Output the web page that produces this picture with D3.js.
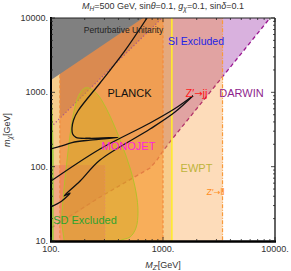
<!DOCTYPE html>
<html>
<head>
<meta charset="utf-8">
<script src="https://cdn.jsdelivr.net/npm/d3@7"></script>
<style>
  body { margin: 0; background: #fff; }
  svg text { font-family: "Liberation Sans", Arial, sans-serif; }
</style>
</head>
<body>
<svg id="chart" width="291" height="271"></svg>
<script>
// axis tick labels
const xTicks = [100, 1000, 10000];
const yTicks = [10, 100, 1000, 10000];

// vertical exclusion edges in M_Z' [GeV]
const dijetRange = [120, 1000];
const ewptEdge = 1200;
const dileptonEdge = 3400;
const redEdge = [104, 303];
const redTop = 105;

// curves as [M_Z', m_chi] in GeV
const unitarity = [[100, 1469], [663, 10000]];
const siLimit = [[100, 342], [980, 10000]];
const darwin = [[90, 13], [100, 15], [274, 39], [766, 96], [884, 123], [1000, 162], [1228, 243], [9024, 10000], [9600, 11500]];
const relic = [[100, 173], [125, 190], [154, 211], [223, 228], [396, 247], [223, 241], [167, 248], [156, 275], [154, 331], [159, 425], [174, 561], [274, 1335], [449, 3490], [720, 10000]];
const funnelUp = [[100, 64], [274, 173], [766, 387], [1280, 606], [1853, 900]];
const funnelLow = [[100, 28.7], [125, 34.5], [148, 44.2], [131, 40.3], [182, 64], [274, 123], [766, 321], [1280, 544], [1853, 900]];
const monojet = [[131, 8], [131, 10], [125, 18], [128, 35.6], [136, 90], [148, 267], [160, 544], [178, 921], [201, 1144], [228, 1109], [263, 921], [310, 616], [365, 364], [431, 196], [508, 96], [574, 45.6], [598, 24.5], [574, 15], [508, 11.3], [413, 10], [400, 8]];
const sdExcluded = [[90, 10], [90, 800], [101.5, 700], [103, 400], [104.5, 150], [104.5, 10]];

const svg = d3.select('#chart');
const x = d3.scaleLog().domain([100, 10000]).range([51, 275]);
const y = d3.scaleLog().domain([10, 10000]).range([241, 18]);

svg.append('defs').append('clipPath').attr('id', 'clip')
  .append('rect').attr('x', 51).attr('y', 18).attr('width', 224).attr('height', 223);

const plot = svg.append('g').attr('clip-path', 'url(#clip)');
const line = d3.line().x(d => x(d[0])).y(d => y(d[1]));
const smooth = d3.line().x(d => x(d[0])).y(d => y(d[1])).curve(d3.curveCatmullRom.alpha(0.5));

function band(lo, hi, mLo, mHi, fill) {
  plot.append('rect')
    .attr('x', x(lo)).attr('y', y(mHi))
    .attr('width', x(hi) - x(lo)).attr('height', y(mLo) - y(mHi))
    .attr('fill', fill);
}
function vline(M, mLo, mHi, stroke, dash, w) {
  plot.append('line')
    .attr('x1', x(M)).attr('x2', x(M)).attr('y1', y(mLo)).attr('y2', y(mHi))
    .attr('stroke', stroke).attr('stroke-width', w).attr('stroke-dasharray', dash);
}

// DARWIN region (drawn first, tinted by the rest); only right of the dijet edge
const darwinFill = [[dijetRange[0], 16.5]].concat(darwin.filter(d => d[0] > dijetRange[0]), [[dijetRange[0], 20000]]);
plot.append('path').attr('d', line(darwinFill) + 'Z').attr('fill', '#d9b1de');
plot.append('path').attr('d', line(darwin)).attr('fill', 'none')
  .attr('stroke', '#9a1690').attr('stroke-width', 1.3).attr('stroke-dasharray', '4,3');

// Z' -> ll
band(90, dileptonEdge, 8, 12000, 'rgba(248,125,0,0.27)');
// EWPT
band(90, ewptEdge, 8, 12000, 'rgba(235,180,60,0.36)');
// dijet
band(dijetRange[0], dijetRange[1], 8, 12000, 'rgba(250,150,50,0.55)');

// SI limit
plot.append('path')
  .attr('d', line([[dijetRange[0], 342 * Math.pow(1.2, 1.48)], [980, 10000], [dijetRange[0], 10000]]) + 'Z')
  .attr('fill', 'rgba(150,80,70,0.25)');
plot.append('path').attr('d', line(siLimit)).attr('fill', 'none')
  .attr('stroke', '#a8568c').attr('stroke-width', 1.2).attr('stroke-dasharray', '1.2,2.2');

// reddish strip
band(redEdge[0], redEdge[1], 8, redTop, 'rgba(235,90,110,0.3)');
vline(redEdge[1], 8, redTop, '#f27a98', '1.3,2', 1);

// monojet
plot.append('path').attr('d', smooth(monojet) + 'Z')
  .attr('fill', 'rgba(205,170,25,0.4)').attr('stroke', '#b5c02a').attr('stroke-width', 1);

// SD excluded
plot.append('path').attr('d', line(sdExcluded) + 'Z')
  .attr('fill', 'rgba(120,200,40,0.6)').attr('stroke', '#8fd12a').attr('stroke-width', 0.8);

// vertical edges
vline(dijetRange[0], 8, 12000, '#f38a3a', '3,2', 1.1);
vline(dijetRange[1], 8, 12000, '#f38a3a', '3,2', 1.2);
vline(ewptEdge, 8, 12000, '#ffec2e', null, 1.6);
vline(dileptonEdge, 8, 12000, '#f89a3a', '4,1.5,1,1.5', 1.2);

// perturbative unitarity
plot.append('path').attr('d', line(unitarity.concat([[90, 12000], [90, 1400]])) + 'Z').attr('fill', '#808080');

// relic density contours
[relic, funnelUp, funnelLow].forEach(c => {
  plot.append('path').attr('d', smooth(c)).attr('fill', 'none')
    .attr('stroke', '#111').attr('stroke-width', 1.3);
});

// annotations [text, M, m, color, size]
const notes = [
  ['Perturbative Unitarity', 444, 6280, '#222', 8.5],
  ['SI Excluded', 1970, 4335, '#2323e6', 10.5],
  ['PLANCK', 502, 865, '#111', 11],
  ['Z\u2032|jj', 1990, 865, '#ff1a1a', 11],
  ['DARWIN', 5020, 865, '#8e1f8e', 11],
  ['MONOJET', 492, 167, '#ff22dd', 11],
  ['EWPT', 1990, 84.7, '#bdb43a', 11],
  ['Z\u2032|ll', 2944, 41.6, '#ff8c1a', 9],
  ['SD Excluded', 201, 16.9, '#2ea32e', 11]
];
notes.forEach(([t, M, m, c, s]) => {
  const el = svg.append('text').attr('x', x(M)).attr('y', y(m))
    .attr('text-anchor', 'middle').attr('font-size', s).attr('fill', c);
  const parts = t.split('|');
  el.append('tspan').text(parts[0]);
  if (parts.length > 1) {
    el.append('tspan').style('font-family', '"DejaVu Sans", sans-serif').attr('font-size', s * 0.9).text('\u2192');
    el.append('tspan').text(parts[1]);
  }
});

// frame
const axes = svg.append('g');
axes.append('line').attr('x1', 51).attr('x2', 275).attr('y1', 18).attr('y2', 18).attr('stroke', '#222').attr('stroke-width', 1);
axes.append('line').attr('x1', 275).attr('x2', 275).attr('y1', 18).attr('y2', 241).attr('stroke', '#222').attr('stroke-width', 1.4);
axes.append('line').attr('x1', 51).attr('x2', 51).attr('y1', 17).attr('y2', 242).attr('stroke', '#000').attr('stroke-width', 2);
axes.append('line').attr('x1', 50).attr('x2', 276).attr('y1', 241.5).attr('y2', 241.5).attr('stroke', '#000').attr('stroke-width', 2.5);

const isMajor = v => Math.abs(Math.log10(v) - Math.round(Math.log10(v))) < 1e-6;
x.ticks().forEach(v => {
  const len = isMajor(v) ? 4 : 2;
  axes.append('line').attr('x1', x(v)).attr('x2', x(v)).attr('y1', 241).attr('y2', 241 - len).attr('stroke', '#222').attr('stroke-width', 0.8);
  axes.append('line').attr('x1', x(v)).attr('x2', x(v)).attr('y1', 18).attr('y2', 18 + len).attr('stroke', '#222').attr('stroke-width', 0.8);
});
y.ticks().forEach(v => {
  const len = isMajor(v) ? 4 : 2;
  axes.append('line').attr('y1', y(v)).attr('y2', y(v)).attr('x1', 51).attr('x2', 51 + len).attr('stroke', '#222').attr('stroke-width', 0.8);
  axes.append('line').attr('y1', y(v)).attr('y2', y(v)).attr('x1', 275).attr('x2', 275 - len).attr('stroke', '#222').attr('stroke-width', 0.8);
});

xTicks.forEach(v => {
  svg.append('text').attr('x', x(v)).attr('y', 252).attr('text-anchor', 'middle')
    .attr('font-size', 9).attr('fill', '#333').text(v + '.');
});
yTicks.forEach(v => {
  svg.append('text').attr('x', 48).attr('y', y(v)).attr('dy', '0.35em').attr('text-anchor', 'end')
    .attr('font-size', 9).attr('fill', '#333').text(v + '.');
});

// title and axis labels
svg.append('text').attr('x', 163).attr('y', 9).attr('text-anchor', 'middle').attr('font-size', 9).attr('fill', '#333')
  .html('<tspan font-style="italic">M</tspan><tspan font-style="italic" font-size="6.5" dy="2">H</tspan><tspan dy="-2">=500 GeV, sin</tspan><tspan font-style="italic">θ</tspan><tspan>=0.1, </tspan><tspan font-style="italic">g</tspan><tspan font-style="italic" font-size="6.5" dy="2">χ</tspan><tspan dy="-2">=0.1, sin</tspan><tspan font-style="italic">δ</tspan><tspan>=0.1</tspan>');

svg.append('text').attr('x', 163).attr('y', 268).attr('text-anchor', 'middle').attr('font-size', 9).attr('fill', '#333')
  .html('<tspan font-style="italic">M</tspan><tspan font-style="italic" font-size="6.5" dy="2">Z\u2032</tspan><tspan dy="-2">[GeV]</tspan>');

svg.append('text').attr('transform', 'translate(10,130) rotate(-90)').attr('text-anchor', 'middle').attr('font-size', 9).attr('fill', '#333')
  .html('<tspan font-style="italic">m</tspan><tspan font-style="italic" font-size="6.5" dy="2">χ</tspan><tspan dy="-2">[GeV]</tspan>');
</script>
</body>
</html>
